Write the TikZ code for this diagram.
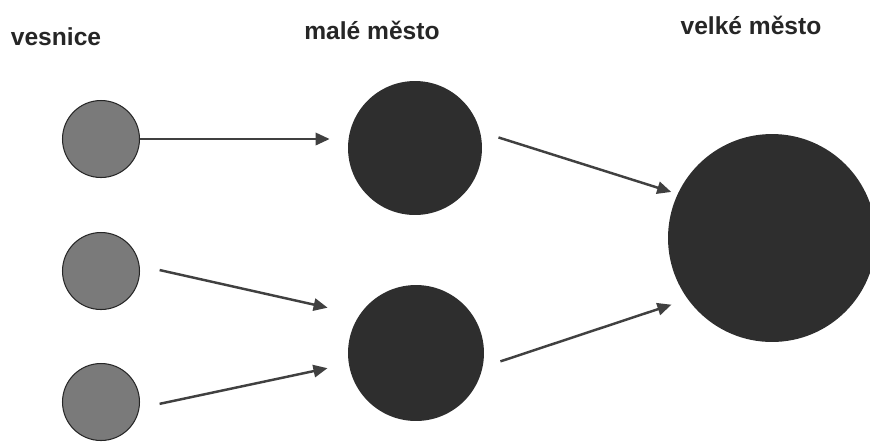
\documentclass[tikz,border=0pt]{standalone}
\usepackage{fontspec}
\setmainfont{Liberation Sans}
\usetikzlibrary{arrows.meta}

\definecolor{villagegrey}{HTML}{7A7A7A}
\definecolor{towndark}{HTML}{2E2E2E}

\begin{document}
\begin{tikzpicture}[x=0.02cm, y=-0.02cm,
  village/.style={circle, draw=black!85, line width=0.6pt, fill=villagegrey, minimum size=1.54cm, inner sep=0pt},
  town/.style={circle, fill=towndark, inner sep=0pt},
  heading/.style={font=\fontsize{14}{16}\selectfont\bfseries, text=black!85, inner sep=0pt},
  flow/.style={-{Triangle[length=8pt,width=7pt]}, line width=1.4pt, draw=black!75}]
  \clip (0,0) rectangle (870,441);
  % ---------- headings ----------
  \node[heading] (hvillage) at (56,37) {vesnice};
  \node[heading] (htown) at (372,30) {malé město};
  \node[heading] (hcity) at (751,25) {velké město};
  % ---------- villages ----------
  \node[village] (v1) at (101,139) {};
  \node[village] (v2) at (101,271) {};
  \node[village] (v3) at (101,402) {};
  % ---------- small towns ----------
  \node[town, minimum size=2.68cm] (t1) at (415,148) {};
  \node[town, minimum size=2.72cm] (t2) at (416,353) {};
  % ---------- big city ----------
  \node[town, minimum size=4.16cm] (c) at (772,238) {};
  % ---------- arrows ----------
  \draw[flow, shorten >=0.36cm] (v1.east) -- (v1.east -| t1.west);
  \draw[flow, shorten <=0.41cm, shorten >=0.65cm] (v2.8) -- (t2.146);
  \draw[flow, shorten <=0.41cm, shorten >=0.43cm] (v3.-9) -- (t2.-171);
  \draw[flow, shorten <=0.38cm, shorten >=0.13cm] (t1.14) -- (c.155);
  \draw[flow, shorten <=0.37cm, shorten >=0.34cm] (t2.-12) -- (c.-144);
\end{tikzpicture}
\end{document}
